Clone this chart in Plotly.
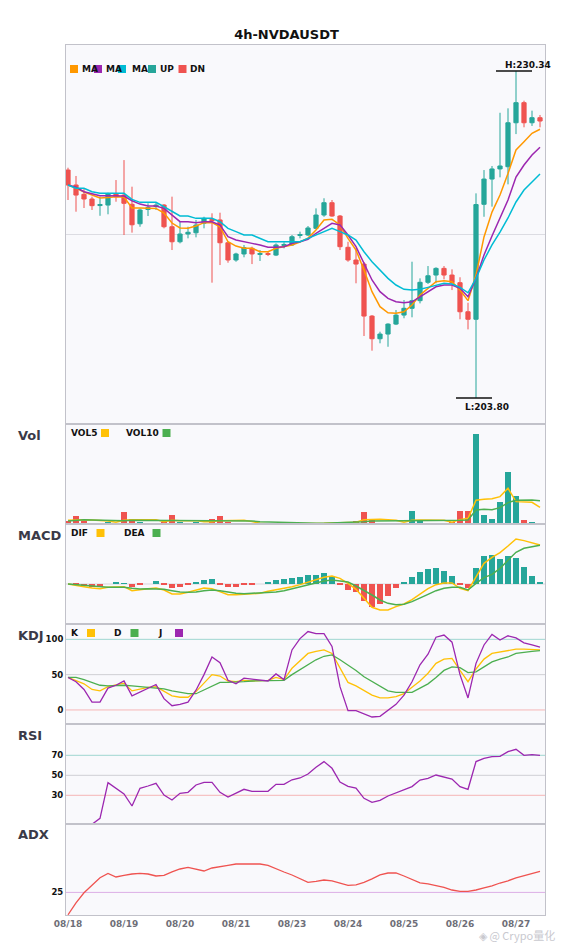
import plotly.graph_objects as go
from plotly.subplots import make_subplots

# ── data: 60 x 4h candles ──
tick_idx = [0, 7, 14, 21, 28, 35, 42, 49, 56]
tick_text = ["08/18", "08/19", "08/20", "08/21", "08/23", "08/24", "08/25", "08/26", "08/27"]

opens = [222.30, 221.09, 220.33, 219.95, 219.42, 219.46, 220.35, 220.27, 219.52, 217.94,
         219.10, 219.34, 219.46, 217.70, 216.48, 217.11, 217.21, 217.98, 218.30, 218.25,
         216.40, 215.00, 215.49, 215.95, 215.45, 215.53, 215.40, 216.18, 216.22, 216.99,
         217.03, 217.57, 218.65, 219.65, 218.57, 216.03, 215.00, 214.67, 210.45, 208.61,
         208.99, 209.80, 210.53, 211.08, 211.70, 213.19, 213.78, 214.32, 213.78, 213.16,
         210.80, 210.19, 219.52, 221.57, 222.39, 222.57, 226.14, 227.77, 226.14, 226.55]
highs = [222.49, 221.82, 220.84, 220.14, 220.14, 220.46, 221.49, 223.11, 220.95, 219.19,
         219.60, 219.68, 219.54, 220.14, 218.11, 217.70, 218.25, 218.51, 218.79, 218.84,
         216.48, 215.59, 216.22, 216.08, 215.81, 215.67, 216.35, 216.44, 217.03, 217.30,
         217.76, 219.19, 220.01, 219.87, 218.65, 216.48, 215.95, 214.84, 210.53, 209.18,
         209.86, 210.94, 211.75, 214.86, 213.51, 214.51, 214.41, 214.51, 214.24, 213.60,
         211.53, 220.41, 222.30, 222.63, 226.95, 227.31, 230.34, 227.93, 227.12, 226.77]
lows = [219.87, 218.92, 219.22, 219.06, 218.59, 218.71, 219.73, 217.03, 217.22, 217.70,
        218.57, 219.06, 217.57, 215.81, 216.35, 216.76, 216.84, 217.57, 213.16, 214.59,
        214.78, 214.86, 215.22, 214.67, 214.92, 215.32, 215.32, 215.95, 216.14, 216.76,
        216.95, 217.49, 218.51, 218.51, 215.81, 214.86, 213.11, 208.83, 207.64, 208.24,
        207.96, 209.72, 210.27, 210.35, 211.48, 213.05, 213.11, 213.43, 212.56, 210.19,
        209.37, 203.80, 218.51, 219.33, 221.71, 221.14, 225.22, 225.77, 225.88, 225.77]
closes = [221.09, 220.27, 219.95, 219.41, 219.50, 220.35, 220.14, 219.60, 217.86, 219.06,
          219.26, 219.46, 217.70, 216.48, 217.11, 217.25, 217.84, 218.38, 218.19, 216.40,
          215.00, 215.49, 216.00, 215.49, 215.53, 215.45, 216.22, 216.26, 216.89, 217.07,
          217.60, 218.65, 219.65, 218.57, 216.08, 215.00, 214.67, 210.45, 208.61, 208.99,
          209.80, 210.53, 211.08, 211.70, 213.19, 213.72, 214.32, 213.78, 213.16, 210.80,
          210.19, 219.50, 221.57, 222.39, 222.63, 226.14, 227.77, 226.14, 226.55, 226.28]

ma_fast = [221.09, 220.84, 220.52, 220.27, 220.03, 220.08, 220.14, 220.11, 219.22, 219.22,
           219.22, 219.19, 218.81, 218.00, 217.60, 217.57, 217.76, 218.03, 218.03, 217.70,
           216.48, 216.13, 215.95, 215.95, 215.67, 215.67, 215.95, 216.08, 216.22, 216.46,
           216.78, 217.43, 218.24, 218.30, 217.84, 216.76, 215.81, 214.19, 212.43, 211.21,
           210.72, 210.67, 210.80, 211.35, 212.16, 212.70, 213.24, 213.32, 213.24, 212.56,
           211.70, 213.78, 216.87, 218.89, 220.27, 222.03, 223.93, 224.60, 225.28, 225.61]
ma_mid = [221.09, 220.90, 220.54, 220.41, 220.22, 220.22, 220.22, 220.19, 219.81, 219.54,
          219.38, 219.38, 219.19, 218.65, 218.11, 218.11, 218.03, 218.11, 218.11, 217.84,
          216.89, 216.62, 216.46, 216.35, 216.22, 216.03, 216.03, 216.08, 216.35, 216.48,
          216.68, 217.17, 217.57, 217.98, 217.84, 217.03, 216.08, 214.73, 213.38, 212.43,
          211.89, 211.61, 211.53, 211.61, 212.02, 212.43, 212.83, 212.97, 212.97, 212.70,
          212.02, 213.51, 215.40, 216.95, 218.41, 219.87, 221.73, 222.71, 223.52, 224.15]
ma_slow = [221.09, 220.82, 220.82, 220.54, 220.41, 220.41, 220.41, 220.41, 219.92, 219.68,
           219.68, 219.68, 219.32, 218.92, 218.57, 218.57, 218.38, 218.38, 218.38, 218.11,
           217.57, 217.30, 217.03, 217.03, 216.76, 216.48, 216.48, 216.48, 216.48, 216.48,
           216.76, 217.03, 217.30, 217.57, 217.30, 217.03, 216.62, 215.67, 214.86, 214.19,
           213.51, 212.97, 212.62, 212.56, 212.62, 212.78, 212.97, 213.11, 213.05, 212.78,
           212.34, 213.51, 215.00, 216.22, 217.27, 218.41, 219.71, 220.68, 221.33, 221.98]
main_grid = [217.03]

volume = [1000, 2500, 1000, 300, 400, 800, 500, 3700, 1600, 800,
          400, 200, 800, 2800, 800, 200, 800, 200, 1700, 2500,
          800, 200, 200, 300, 100, 150, 150, 150, 150, 150,
          150, 400, 400, 300, 700, 300, 1000, 3700, 1500, 400,
          400, 400, 400, 4000, 1300, 400, 400, 400, 800, 4000,
          4000, 27100, 2800, 1600, 6700, 15700, 8500, 1300, 700, 200]
vol5 = [1200, 1400, 1400, 1300, 1200, 1000, 600, 1200, 1400, 1400,
        1400, 1400, 800, 1200, 1100, 1100, 1100, 800, 800, 1100,
        1200, 1200, 1200, 800, 300, 200, 200, 200, 100, 100,
        200, 300, 300, 400, 500, 500, 600, 1400, 1500, 1500,
        1400, 1200, 600, 1200, 1300, 1300, 1300, 1200, 600, 1400,
        1800, 7200, 7500, 7700, 8300, 10800, 6800, 6800, 6600, 5100]
vol10 = [1000, 1200, 1400, 1300, 1200, 1100, 1000, 1100, 1200, 1200,
         1200, 1200, 1200, 1200, 1200, 1100, 1100, 1100, 1100, 1100,
         1100, 1100, 1100, 1000, 800, 700, 600, 500, 400, 300,
         300, 300, 300, 400, 400, 400, 500, 800, 1000, 1000,
         1100, 1100, 1100, 1200, 1200, 1200, 1200, 1200, 1200, 1200,
         1300, 4300, 4500, 4400, 5000, 6500, 7200, 7300, 7300, 7100]

macd_hist = [0.00, -0.02, -0.07, -0.10, -0.10, 0.00, 0.03, 0.02, -0.11, -0.05,
             0.00, 0.07, -0.05, -0.14, -0.10, -0.05, 0.03, 0.12, 0.15, -0.02,
             -0.10, -0.10, -0.02, -0.02, 0.00, 0.03, 0.12, 0.15, 0.17, 0.21,
             0.25, 0.27, 0.33, 0.24, -0.03, -0.20, -0.26, -0.53, -0.70, -0.60,
             -0.38, -0.14, 0.06, 0.21, 0.36, 0.45, 0.48, 0.39, 0.24, -0.02,
             -0.12, 0.48, 0.82, 0.87, 0.75, 0.82, 0.78, 0.49, 0.24, 0.06]
dif = [0.00, -0.03, -0.08, -0.12, -0.14, -0.10, -0.08, -0.08, -0.20, -0.16,
       -0.14, -0.12, -0.18, -0.30, -0.30, -0.25, -0.18, -0.12, -0.14, -0.22,
       -0.32, -0.32, -0.30, -0.28, -0.28, -0.22, -0.18, -0.14, -0.08, -0.02,
       0.05, 0.13, 0.20, 0.24, 0.17, 0.02, -0.16, -0.43, -0.70, -0.78,
       -0.78, -0.68, -0.60, -0.47, -0.30, -0.14, -0.02, 0.03, 0.03, -0.13,
       -0.20, 0.22, 0.62, 0.80, 0.94, 1.14, 1.35, 1.30, 1.24, 1.17]
dea = [0.00, -0.02, -0.05, -0.08, -0.09, -0.10, -0.10, -0.10, -0.13, -0.15,
       -0.14, -0.14, -0.16, -0.20, -0.24, -0.25, -0.24, -0.20, -0.18, -0.20,
       -0.24, -0.28, -0.29, -0.28, -0.28, -0.27, -0.24, -0.20, -0.14, -0.08,
       -0.02, 0.04, 0.09, 0.12, 0.10, 0.06, -0.06, -0.19, -0.33, -0.48,
       -0.58, -0.62, -0.61, -0.53, -0.43, -0.31, -0.20, -0.13, -0.10, -0.10,
       -0.18, 0.02, 0.19, 0.29, 0.47, 0.72, 0.95, 1.07, 1.12, 1.16]

k_line = [46, 42, 37, 29, 27, 33, 35, 38, 27, 30, 32, 33, 26, 20, 18, 18, 26, 38, 50, 48,
          41, 40, 42, 41, 41, 42, 46, 43, 59, 70, 80, 83, 85, 80, 59, 39, 34, 27, 21, 17,
          17, 19, 23, 32, 41, 52, 66, 72, 73, 56, 40, 58, 72, 80, 82, 85, 86, 86, 86, 85]
d_line = [46, 46, 43, 39, 35, 34, 35, 35, 34, 33, 32, 32, 30, 27, 25, 23, 23, 28, 34, 39,
          39, 39, 40, 41, 41, 42, 42, 42, 50, 57, 64, 71, 76, 78, 71, 64, 56, 47, 40, 33,
          27, 25, 25, 25, 31, 37, 46, 56, 61, 60, 53, 54, 61, 68, 72, 75, 80, 82, 83, 84]
j_line = [46, 40, 29, 11, 11, 31, 35, 41, 20, 25, 30, 36, 16, 6, 8, 11, 28, 50, 75, 67,
          42, 37, 45, 44, 42, 41, 51, 43, 85, 101, 111, 108, 108, 90, 33, -1, -1, -6, -10, -9,
          -1, 8, 21, 40, 64, 79, 103, 106, 96, 50, 17, 66, 92, 107, 99, 105, 102, 95, 92, 89]

rsi = [None, None, None, 1, 7, 42.7, 37, 31.3, 19.3, 37,
       39.3, 42, 30.3, 25.3, 32, 33, 40.3, 43, 43, 33,
       28.3, 32, 36, 34, 34, 34, 41, 41, 45.5, 47.3,
       51.3, 58, 63.7, 57, 43.3, 39, 37.3, 27, 23, 25,
       29.3, 32.7, 35.3, 38.7, 45.3, 47, 50.3, 48.3, 46.3, 38.7,
       36, 63.7, 67, 68.7, 69, 73.7, 76, 70, 70.7, 70]

adx = [13.8, 19.8, 24.8, 28.7, 32.3, 34.5, 32.7, 33.5, 34.2, 34.5,
       34.2, 33.2, 33.5, 35.3, 36.7, 37.5, 36.5, 35.7, 37.2, 37.7,
       38.5, 39.2, 39.2, 39.2, 39.2, 38.5, 36.7, 35.2, 33.7, 31.7,
       30.0, 30.5, 31.2, 30.8, 29.5, 28.5, 28.8, 30.0, 31.8, 33.8,
       34.7, 34.7, 33.2, 31.5, 29.8, 29.3, 28.5, 27.5, 26.2, 25.5,
       25.5, 26.2, 27.3, 28.3, 29.7, 30.8, 32.3, 33.3, 34.3, 35.5]

# ── style ──
UP = "#26a69a"
DN = "#ef5350"
ORANGE = "#ff9800"
PURPLE = "#9c27b0"
CYAN = "#00bcd4"
YEL = "#ffc107"
GRN = "#4caf50"
FONT = "DejaVu Sans"
BORDER = "#c2c2ca"

# the page sits 8px in from the window corner
OFF = 8
W, H = 557, 942
ML, MR, MT, MB = 58, 20, 37, 35
PW, PH = W - ML - MR, H - MT - MB


def px_x(x):
    """window pixel x → paper x"""
    return (x - OFF - ML) / PW


def px_y(y):
    """window pixel y → paper y"""
    return (H - MB - (y - OFF)) / PH


idx = list(range(len(opens)))
vol_colors = [UP if c >= o else DN for o, c in zip(opens, closes)]
hist_colors = [UP if v >= 0 else DN for v in macd_hist]

fig = make_subplots(rows=6, cols=1, shared_xaxes=True, vertical_spacing=0)

fig.add_trace(
    go.Candlestick(
        x=idx, open=opens, high=highs, low=lows, close=closes,
        increasing=dict(line=dict(color=UP, width=1), fillcolor=UP),
        decreasing=dict(line=dict(color=DN, width=1), fillcolor=DN),
        whiskerwidth=0,
    ),
    row=1, col=1,
)
for vals, color in [(ma_fast, ORANGE), (ma_mid, PURPLE), (ma_slow, CYAN)]:
    fig.add_trace(go.Scatter(x=idx, y=vals, mode="lines", line=dict(color=color, width=1.5)), row=1, col=1)

fig.add_trace(go.Bar(x=idx, y=volume, marker_color=vol_colors, width=0.75, marker_line_width=0), row=2, col=1)
fig.add_trace(go.Scatter(x=idx, y=vol5, mode="lines", line=dict(color=YEL, width=1.5)), row=2, col=1)
fig.add_trace(go.Scatter(x=idx, y=vol10, mode="lines", line=dict(color=GRN, width=1.5)), row=2, col=1)

fig.add_trace(go.Bar(x=idx, y=macd_hist, marker_color=hist_colors, width=0.75, marker_line_width=0), row=3, col=1)
fig.add_trace(go.Scatter(x=idx, y=dif, mode="lines", line=dict(color=YEL, width=1.5)), row=3, col=1)
fig.add_trace(go.Scatter(x=idx, y=dea, mode="lines", line=dict(color=GRN, width=1.5)), row=3, col=1)

fig.add_trace(go.Scatter(x=idx, y=k_line, mode="lines", line=dict(color=YEL, width=1.3)), row=4, col=1)
fig.add_trace(go.Scatter(x=idx, y=d_line, mode="lines", line=dict(color=GRN, width=1.3)), row=4, col=1)
fig.add_trace(go.Scatter(x=idx, y=j_line, mode="lines", line=dict(color=PURPLE, width=1.3)), row=4, col=1)

fig.add_trace(go.Scatter(x=idx, y=rsi, mode="lines", line=dict(color=PURPLE, width=1.3)), row=5, col=1)
fig.add_trace(go.Scatter(x=idx, y=adx, mode="lines", line=dict(color=DN, width=1.3)), row=6, col=1)

# reference lines
for row, val, color in [
    (3, 0, "#d6d6dc"),
    (4, 100, "#9fd6d0"), (4, 50, "#cfcfd4"), (4, 0, "#f6b6b6"),
    (5, 70, "#9fd6d0"), (5, 50, "#cfcfd4"), (5, 30, "#f6b6b6"),
    (6, 25, "#dcaee6"),
]:
    fig.add_hline(y=val, line=dict(color=color, width=1), layer="below", row=row, col=1)

# high / low markers
hi_i = highs.index(max(highs))
lo_i = lows.index(min(lows))
fig.add_shape(type="line", x0=hi_i - 2.5, x1=hi_i + 2, y0=highs[hi_i], y1=highs[hi_i],
              line=dict(color="#111111", width=1.5), row=1, col=1)
fig.add_annotation(x=hi_i - 1.5, y=highs[hi_i], text=f"<b>H:{highs[hi_i]:.2f}</b>", showarrow=False,
                   xanchor="left", yanchor="bottom", yshift=0, borderpad=0,
                   font=dict(family=FONT, size=9, color="#111111"), row=1, col=1)
fig.add_shape(type="line", x0=lo_i - 2.5, x1=lo_i + 2, y0=lows[lo_i], y1=lows[lo_i],
              line=dict(color="#111111", width=1.5), row=1, col=1)
fig.add_annotation(x=lo_i - 1.5, y=lows[lo_i], text=f"<b>L:{lows[lo_i]:.2f}</b>", showarrow=False,
                   xanchor="left", yanchor="top", yshift=-3, borderpad=0,
                   font=dict(family=FONT, size=9, color="#111111"), row=1, col=1)


def add_key(text, color, text_x, sq_x, y):
    fig.add_shape(type="rect", xref="paper", yref="paper",
                  x0=px_x(sq_x), x1=px_x(sq_x + 8), y0=px_y(y + 4), y1=px_y(y - 4),
                  fillcolor=color, line_width=0)
    fig.add_annotation(xref="paper", yref="paper", x=px_x(text_x), y=px_y(y), text=f"<b>{text}</b>",
                       xanchor="left", yanchor="middle", showarrow=False, borderpad=0,
                       font=dict(family=FONT, size=9, color="#111111"))


for text, color, tx, sx in [("MA", ORANGE, 81, 70), ("MA", PURPLE, 105, 94), ("MA", CYAN, 131, 118),
                            ("UP", UP, 159, 148), ("DN", DN, 189, 178.5)]:
    add_key(text, color, tx, sx, 69)
for text, color, tx, sx in [("VOL5", YEL, 70, 101), ("VOL10", GRN, 125, 162.5)]:
    add_key(text, color, tx, sx, 433)
for text, color, tx, sx in [("DIF", YEL, 70, 96.5), ("DEA", GRN, 123, 152.5)]:
    add_key(text, color, tx, sx, 533)
for text, color, tx, sx in [("K", YEL, 70, 87), ("D", GRN, 113, 130.5), ("J", PURPLE, 157, 175)]:
    add_key(text, color, tx, sx, 633)

for label, y in [("Vol", 435), ("MACD", 535), ("KDJ", 635), ("RSI", 735), ("ADX", 834)]:
    fig.add_annotation(xref="paper", yref="paper", x=px_x(17), y=px_y(y), text=f"<b>{label}</b>",
                       xanchor="left", yanchor="middle", showarrow=False, borderpad=0,
                       font=dict(family=FONT, size=13, color="#3a3a48"))

fig.add_annotation(xref="paper", yref="paper", x=px_x(556), y=px_y(935), text="◈ @ Crypo量化",
                   xanchor="right", yanchor="middle", showarrow=False, borderpad=0,
                   font=dict(family="Noto Sans CJK SC", size=11, color="#c9c9cf"))

# panel domains (window pixel rows of the reference)
edges = [45, 424, 524.3, 624, 724.3, 824, 915]
for r in range(6):
    fig.layout[f"yaxis{'' if r == 0 else r + 1}"].domain = [px_y(edges[r + 1]), px_y(edges[r])]

tick_font = dict(family=FONT, size=8.5, color="#111111", weight="bold")
fig.update_xaxes(range=[-0.25, 59.625], showgrid=False, zeroline=False, showline=True, mirror=True,
                 linecolor=BORDER, linewidth=1, ticks="", tickvals=tick_idx, ticktext=tick_text,
                 rangeslider_visible=False,
                 tickfont=dict(family=FONT, size=9, color="#6e6e78", weight="bold"))
fig.update_yaxes(zeroline=False, showline=True, mirror=True, linecolor=BORDER, linewidth=1,
                 ticks="", tickfont=tick_font, showgrid=False)
fig.update_yaxes(range=[201.69, 232.45], tickvals=main_grid, showticklabels=False,
                 showgrid=True, gridcolor="#dcdce2", row=1, col=1)
fig.update_yaxes(range=[0, 30100], showticklabels=False, row=2, col=1)
fig.update_yaxes(range=[-1.20, 1.79], showticklabels=False, row=3, col=1)
fig.update_yaxes(range=[-20.3, 121.7], tickvals=[0, 50, 100], row=4, col=1)
fig.update_yaxes(range=[1.3, 101], tickvals=[30, 50, 70], row=5, col=1)
fig.update_yaxes(range=[13.7, 59.2], tickvals=[25], row=6, col=1)

fig.update_layout(
    width=W, height=H,
    margin=dict(l=ML, r=MR, t=MT, b=MB),
    title=dict(text="<b>4h-NVDAUSDT</b>", x=0.5, xanchor="center", y=1 - (34 - OFF) / H, yanchor="middle",
               font=dict(family=FONT, size=13, color="#111111")),
    plot_bgcolor="#f9f9fc",
    paper_bgcolor="white",
    showlegend=False,
    boxgap=0.25,
    bargap=0,
)

fig.write_html("out.html")
